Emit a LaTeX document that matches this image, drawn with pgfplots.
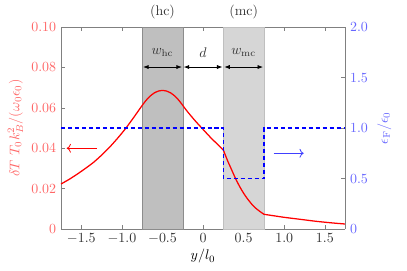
\documentclass[border=0pt]{standalone}
\usepackage{pgfplots}
\pgfplotsset{compat=1.18}
\usetikzlibrary{arrows.meta}
\begin{document}
\begin{tikzpicture}
\useasboundingbox (-43.6bp,-29.3bp) rectangle (247.1bp,163.6bp);
\begin{axis}[
  at={(0,0)}, anchor=south west,
  scale only axis, width=202.9bp, height=144.3bp,
  xmin=-1.75, xmax=1.75, ymin=0, ymax=0.1,
  axis y line*=left,
  axis line style={gray, semithick},
  every tick/.style={gray},
  major tick length=3pt,
  xtick={-1.5,-1,-0.5,0,0.5,1,1.5},
  xticklabels={$-1.5$,$-1.0$,$-0.5$,$0$,$0.5$,$1.0$,$1.5$},
  xtick pos=both,
  ytick={0,0.02,0.04,0.06,0.08,0.1},
  yticklabels={$0$,$0.02$,$0.04$,$0.06$,$0.08$,$0.10$},
  yticklabel style={red!60},
  xticklabel style={black!80},
  xlabel={$y/l_0$},
  ylabel={$\delta T\ T_0 k_B^2/(\omega_0\epsilon_0)$},
  ylabel style={red!60, yshift=-1pt},
  xlabel style={yshift=3pt},
  clip=false,
  tick align=inside,
]
\addplot[fill=gray!50, draw=gray!90] coordinates {(-0.75,0) (-0.75,0.1) (-0.25,0.1) (-0.25,0)} -- cycle;
\addplot[fill=black!16, draw=black!25] coordinates {(0.25,0) (0.25,0.1) (0.75,0.1) (0.75,0)} -- cycle;
\addplot[red, line width=0.9pt, smooth, tension=0.4] coordinates {
(-1.75,0.0223) (-1.65,0.0246) (-1.55,0.0272) (-1.45,0.0300) (-1.35,0.0330) (-1.25,0.0366) (-1.15,0.0406)
(-1.05,0.0451) (-0.95,0.0500) (-0.85,0.0555) (-0.75,0.0612) (-0.7,0.0638) (-0.65,0.0659)
(-0.6,0.0674) (-0.55,0.0683) (-0.5,0.0686) (-0.45,0.0683) (-0.4,0.0674) (-0.35,0.0659)
(-0.3,0.0638) (-0.25,0.0612) (-0.2,0.0585) (-0.1,0.0537) (0,0.0493) (0.1,0.0450)
(0.2,0.0411) (0.25,0.0391)};
\addplot[red, line width=0.9pt, smooth, tension=0.4] coordinates {
(0.25,0.0391) (0.3,0.0340) (0.35,0.0295) (0.4,0.0250) (0.45,0.0211) (0.5,0.0177)
(0.55,0.0148) (0.6,0.0123) (0.65,0.0103) (0.7,0.0087) (0.75,0.0073)};
\addplot[red, line width=0.9pt, smooth, tension=0.4] coordinates {
(0.75,0.0073) (0.9,0.0064) (1.0,0.0058) (1.2,0.0048) (1.4,0.0038) (1.6,0.0030) (1.75,0.0025)};
\draw[red, -{To[length=3pt]}, semithick] (axis cs:-1.31,0.04) -- (axis cs:-1.68,0.04);
\draw[{Latex[length=4pt]}-{Latex[length=4pt]}, semithick] (axis cs:-0.74,0.0802) -- (axis cs:-0.26,0.0802);
\draw[{Latex[length=4pt]}-{Latex[length=4pt]}, semithick] (axis cs:-0.24,0.0802) -- (axis cs:0.24,0.0802);
\draw[{Latex[length=4pt]}-{Latex[length=4pt]}, semithick] (axis cs:0.26,0.0802) -- (axis cs:0.74,0.0802);
\node[black!80] at (axis cs:-0.5,0.0875) {$w_{\mathrm{hc}}$};
\node[black!80] at (axis cs:0,0.0875) {$d$};
\node[black!80] at (axis cs:0.5,0.0875) {$w_{\mathrm{mc}}$};
\node[black!80] at (axis cs:-0.5,0.1075) {(hc)};
\node[black!80] at (axis cs:0.5,0.1075) {(mc)};
\end{axis}
\begin{axis}[
  at={(0,0)}, anchor=south west,
  scale only axis, width=202.9bp, height=144.3bp,
  xmin=-1.75, xmax=1.75, ymin=0, ymax=2,
  axis y line*=right, axis x line=none,
  axis line style={gray, semithick},
  every tick/.style={gray},
  major tick length=3pt,
  ytick={0,0.5,1,1.5,2},
  yticklabels={$0$,$0.5$,$1.0$,$1.5$,$2.0$},
  yticklabel style={blue!60},
  ylabel={$\epsilon_{\mathrm{F}}/\epsilon_0$},
  ylabel style={blue!60},
  tick align=inside,
  clip=false,
]
\addplot[blue, line width=0.9pt, dash pattern=on 3pt off 2pt] coordinates {(-1.75,1) (0.25,1) (0.25,0.5) (0.75,0.5) (0.75,1) (1.75,1)};
\draw[blue!75, -{To[length=3pt]}, semithick] (axis cs:0.87,0.75) -- (axis cs:1.24,0.75);
\end{axis}
\end{tikzpicture}
\end{document}
